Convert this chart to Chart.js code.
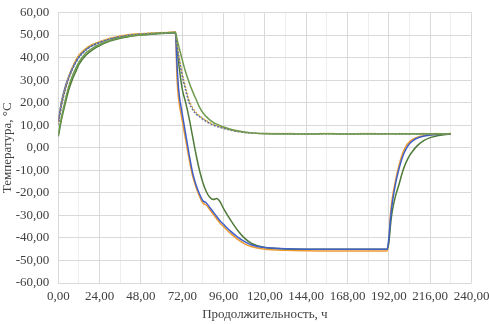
<!DOCTYPE html>
<html>
<head>
<meta charset="utf-8">
<script src="https://cdn.jsdelivr.net/npm/chart.js@4"></script>
<style>
  html, body { margin: 0; padding: 0; background: #fff; }
  #wrap { width: 489px; height: 324px; }
</style>
</head>
<body>
<div id="wrap"><canvas id="tempChart" width="489" height="324"></canvas></div>
<script>
// Время измерений, ч
const hours = [0, 2, 4, 6, 8, 10, 12, 16, 20, 24, 30, 36, 42, 48, 54, 60, 66, 68,
  69, 70, 72, 74, 76, 78, 80, 82, 84, 86, 88, 90, 92, 94, 96, 100, 104, 108, 112,
  120, 132, 144, 156, 168, 180, 191,
  192, 193, 194, 196, 198, 200, 202, 204, 206, 208, 212, 216, 220, 224, 228];

// Кривые, уходящие к -45
const seriesBlue = [12, 21, 27, 31.5, 35, 38, 40.5, 43.5, 45.5, 46.8, 48.3, 49.3, 50, 50.4, 50.7, 50.9, 51.1, 51.2,
  36, 25, 15, 6, -3, -11, -16.5, -20.5, -23.5, -24.5, -26.5, -28.5, -30.5, -32.5, -34, -37, -39.5, -41.5, -43,
  -44.3, -44.8, -45, -45, -45, -45, -45,
  -40, -31, -24.5, -15.5, -9, -4, -0.5, 1.8, 3.2, 4.1, 5.1, 5.6, 5.9, 6.1, 6.2];
const seriesOrange = [11, 20, 26, 31, 35, 38.5, 41, 44, 45.8, 47, 48.5, 49.5, 50.2, 50.5, 50.8, 51, 51.2, 51.3,
  30, 21, 12, 3.5, -5, -12.5, -17.5, -21.5, -24.5, -25.5, -27.5, -29.5, -31.5, -33.5, -35, -38, -40.5, -42.5, -43.8,
  -45, -45.5, -45.7, -45.8, -45.8, -45.8, -45.8,
  -41, -29, -22.5, -14, -7.5, -2.5, 0.7, 2.6, 3.8, 4.5, 5.3, 5.7, 6, 6.1, 6.3];
const seriesGreenA = [5, 13, 19.5, 25.5, 30, 33.5, 37, 41, 43.5, 45.3, 47.3, 48.6, 49.5, 50, 50.4, 50.7, 50.9, 51,
  44, 37, 26, 20, 13, 5, -3, -10, -15.5, -19.5, -22, -23, -22.5, -24, -27, -32, -36.5, -40, -42.3,
  -44.3, -44.9, -45, -45, -45, -45, -45,
  -42, -34, -28, -21, -16, -10.5, -6.5, -3.5, -1.3, 0.5, 3, 4.5, 5.3, 5.8, 6];

// Кривые, выходящие на +6
const seriesGray = [10, 19, 25.5, 30.5, 34.5, 37.5, 40, 43.3, 45.3, 46.6, 48.2, 49.2, 49.9, 50.3, 50.6, 50.8, 51, 51.1,
  45, 40, 32, 25.5, 20, 17, 15, 13.8, 12.6, 11.6, 10.8, 10.1, 9.5, 9, 8.6, 7.8, 7.2, 6.8, 6.5,
  6.3, 6.2, 6.1, 6.2, 6.1, 6.2, 6.1,
  6.2, 6.1, 6.2, 6.1, 6.2, 6.1, 6.2, 6.1, 6.2, 6.1, 6.2, 6.1, 6.2, 6.1, 6.2];
const seriesGold = [11.5, 20.5, 26.5, 31.5, 35.5, 38.5, 41, 44, 45.8, 47, 48.6, 49.6, 50.2, 50.6, 50.9, 51.1, 51.3, 51.5,
  46, 41, 33, 26.5, 21, 17.8, 15.6, 14.2, 13, 12, 11.1, 10.4, 9.8, 9.3, 8.8, 8, 7.3, 6.9, 6.6,
  6.3, 6.3, 6.2, 6.3, 6.2, 6.3, 6.2,
  6.3, 6.2, 6.3, 6.2, 6.3, 6.2, 6.3, 6.2, 6.3, 6.2, 6.3, 6.2, 6.3, 6.2, 6.3];
const seriesOlive = [6, 14, 21, 27, 31.5, 35, 38, 42, 44.2, 45.8, 47.6, 48.8, 49.6, 50.1, 50.5, 50.8, 51, 51.1,
  48, 45, 39, 33.5, 29, 25, 21.5, 18, 15.5, 13.8, 12.4, 11.3, 10.5, 9.8, 9.2, 8.2, 7.5, 7, 6.6,
  6.2, 6.1, 6.1, 6.2, 6.1, 6.1, 6.2,
  6.1, 6.1, 6.2, 6.1, 6.1, 6.2, 6.1, 6.1, 6.2, 6.1, 6.1, 6.2, 6.1, 6.1, 6.2];

const yTicks = [-60, -50, -40, -30, -20, -10, 0, 10, 20, 30, 40, 50, 60];
const xLabelStep = 24;

const fmt = (v) => v.toFixed(2).replace(".", ",");
const toPoints = (vals) => vals.map((v, i) => ({ x: hours[i], y: v }));

function makeSet(vals, color, dash) {
  return {
    data: toPoints(vals),
    borderColor: color,
    backgroundColor: color,
    borderWidth: 1.5,
    borderDash: dash || [],
    pointRadius: 0,
    cubicInterpolationMode: "monotone",
    fill: false,
  };
}

const axisFont = { family: "Liberation Serif", size: 13 };

const ctx = document.getElementById("tempChart").getContext("2d");
new Chart(ctx, {
  type: "line",
  data: {
    datasets: [
      makeSet(seriesOlive, "#6E9A4E"),
      makeSet(seriesGray, "#5A6E9C", [2, 1.5]),
      makeSet(seriesGold, "#E0B040", [2, 1.5]),
      makeSet(seriesBlue, "#4060C8"),
      makeSet(seriesGreenA, "#4F7A3A"),
      makeSet(seriesOrange, "#ED9A31"),
    ],
  },
  options: {
    responsive: false,
    devicePixelRatio: 1,
    animation: false,
    layout: { padding: { left: 0, right: 0, top: 0, bottom: 2 } },
    plugins: { legend: { display: false }, tooltip: { enabled: false } },
    scales: {
      x: {
        type: "linear",
        min: 0,
        max: 240,
        afterFit: (axis) => {
          // место под подписи и заголовок, как в оригинале
          axis.height = 39;
          axis.paddingRight = 17.5;
        },
        grid: {
          color: (c) => (c.tick && c.tick.value % xLabelStep === 0 ? "#d9d9d9" : "#eeeeee"),
          lineWidth: 1,
          drawTicks: false,
        },
        border: { display: false },
        ticks: {
          stepSize: 12,
          autoSkip: false,
          maxRotation: 0,
          padding: 6,
          color: "#404040",
          font: axisFont,
          callback: (v) => (v % xLabelStep === 0 ? fmt(v) : ""),
        },
        title: {
          display: true,
          text: "Продолжительность, ч",
          color: "#404040",
          font: axisFont,
          padding: { top: 2, bottom: 0 },
        },
      },
      y: {
        min: -60,
        max: 60,
        afterBuildTicks: (axis) => {
          axis.ticks = yTicks.map((v) => ({ value: v }));
        },
        afterFit: (axis) => {
          axis.width = 58.3;
          axis.paddingTop = 12.5;
        },
        grid: { color: "#d9d9d9", lineWidth: 1, drawTicks: false },
        border: { display: false },
        ticks: {
          padding: 9,
          color: "#404040",
          font: axisFont,
          callback: (v) => fmt(v),
        },
        title: {
          display: true,
          text: "Температура, °С",
          color: "#404040",
          font: axisFont,
          padding: { top: 0, bottom: 0 },
        },
      },
    },
  },
});
</script>
</body>
</html>
